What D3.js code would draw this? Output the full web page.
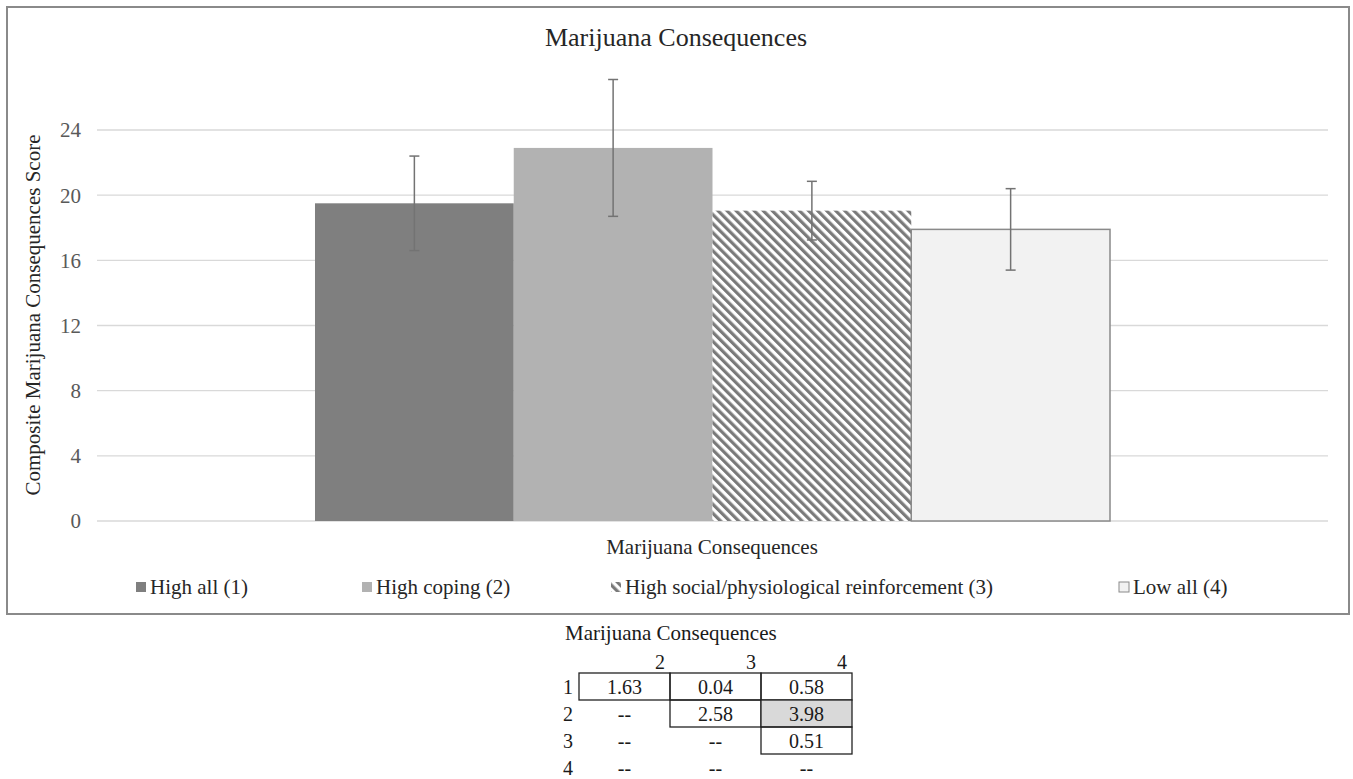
<!DOCTYPE html>
<html>
<head>
<meta charset="utf-8">
<script src="https://cdn.jsdelivr.net/npm/d3@7"></script>
<style>
  html, body { margin: 0; padding: 0; background: #fff; }
  svg { display: block; font-family: "Liberation Serif", "Times New Roman", serif; }
</style>
</head>
<body>
<svg id="chart" width="1353" height="779"></svg>
<script>
// Cluster profiles and their composite consequence scores
const category = ["Marijuana Consequences"];
const groups = ["High all (1)", "High coping (2)", "High social/physiological reinforcement (3)", "Low all (4)"];
const means = [19.5, 22.9, 19.05, 17.9];
const errors = [2.9, 4.2, 1.8, 2.5];
const yTicks = [0, 4, 8, 12, 16, 20, 24];

// Pairwise comparison table (rows 1-4 vs columns 2-4)
const tableTitle = "Marijuana Consequences";
const tableCols = ["2", "3", "4"];
const tableRows = ["1", "2", "3", "4"];
const tableValues = [
  ["1.63", "0.04", "0.58"],
  ["--", "2.58", "3.98"],
  ["--", "--", "0.51"],
  ["--", "--", "--"]
];
const highlighted = [[1, 2]];

const svg = d3.select("#chart");
const defs = svg.append("defs");

// wide downward diagonal hatch
const pat = defs.append("pattern")
  .attr("id", "hatch")
  .attr("patternUnits", "userSpaceOnUse")
  .attr("width", 6.4).attr("height", 6.4)
  .attr("patternTransform", "rotate(-45)");
pat.append("rect").attr("width", 6.4).attr("height", 6.4).attr("fill", "#fff");
pat.append("rect").attr("x", 0).attr("y", 0).attr("width", 3.2).attr("height", 6.4).attr("fill", "#7a7a7a");

const fills = ["#7f7f7f", "#b2b2b2", "url(#hatch)", "#f2f2f2"];
const strokes = ["none", "none", "none", "#8a8a8a"];

// outer chart frame
svg.append("rect")
  .attr("x", 7).attr("y", 7).attr("width", 1342).attr("height", 607)
  .attr("fill", "#fff").attr("stroke", "#8a8a8a").attr("stroke-width", 2);

const plot = { left: 97, right: 1328, top: 130, bottom: 521 };

const y = d3.scaleLinear().domain([0, 24]).range([plot.bottom, plot.top]);
const x0 = d3.scaleBand().domain(category).range([plot.left, plot.right])
  .paddingInner(0).paddingOuter(0.2742);
const x1 = d3.scaleBand().domain(groups).range([0, x0.bandwidth()]).padding(0);

// gridlines
svg.append("g").selectAll("line").data(yTicks).join("line")
  .attr("x1", plot.left).attr("x2", plot.right)
  .attr("y1", d => y(d)).attr("y2", d => y(d))
  .attr("stroke", "#d9d9d9").attr("stroke-width", 1.3);

// y axis labels
const yAxis = d3.axisLeft(y).tickValues(yTicks).tickSize(0).tickPadding(0);
const yg = svg.append("g").attr("transform", `translate(81,0)`).call(yAxis);
yg.select(".domain").remove();
yg.selectAll("text")
  .attr("font-family", "Liberation Serif, serif")
  .attr("font-size", 21).attr("fill", "#595959").attr("dy", "0.33em");

// bars
const gBars = svg.append("g").attr("transform", `translate(${x0(category[0])},0)`);
gBars.selectAll("rect").data(groups).join("rect")
  .attr("x", d => x1(d))
  .attr("y", (d, i) => y(means[i]))
  .attr("width", x1.bandwidth())
  .attr("height", (d, i) => y(0) - y(means[i]))
  .attr("fill", (d, i) => fills[i])
  .attr("stroke", (d, i) => strokes[i])
  .attr("stroke-width", 1.5);

// error bars
const eb = gBars.selectAll("g.err").data(groups).join("g").attr("class", "err");
eb.append("line")
  .attr("x1", d => x1(d) + x1.bandwidth() / 2).attr("x2", d => x1(d) + x1.bandwidth() / 2)
  .attr("y1", (d, i) => y(means[i] + errors[i])).attr("y2", (d, i) => y(means[i] - errors[i]));
[1, -1].forEach(s => {
  eb.append("line")
    .attr("x1", d => x1(d) + x1.bandwidth() / 2 - 5).attr("x2", d => x1(d) + x1.bandwidth() / 2 + 5)
    .attr("y1", (d, i) => y(means[i] + s * errors[i])).attr("y2", (d, i) => y(means[i] + s * errors[i]));
});
eb.selectAll("line").attr("stroke", "#737373").attr("stroke-width", 1.5);

// titles
svg.append("text").attr("x", 676).attr("y", 46).attr("text-anchor", "middle")
  .attr("font-size", 26).attr("fill", "#262626").text("Marijuana Consequences");
svg.append("text").attr("x", 712).attr("y", 554).attr("text-anchor", "middle")
  .attr("font-size", 21).attr("fill", "#262626").text(category[0]);
svg.append("text")
  .attr("transform", `translate(40,315) rotate(-90)`)
  .attr("text-anchor", "middle").attr("font-size", 21).attr("fill", "#262626")
  .text("Composite Marijuana Consequences Score");

// legend
const legendX = [136, 362, 611, 1119];
const lg = svg.append("g").selectAll("g").data(groups).join("g")
  .attr("transform", (d, i) => `translate(${legendX[i]},587)`);
lg.append("rect").attr("x", 0).attr("y", -5).attr("width", 10).attr("height", 10)
  .attr("fill", (d, i) => fills[i])
  .attr("stroke", (d, i) => strokes[i]).attr("stroke-width", 1);
lg.append("text").attr("x", 14).attr("y", 0).attr("dy", "0.35em")
  .attr("font-size", 21).attr("fill", "#262626").text(d => d);

// comparison table
const tb = svg.append("g");
const colEdges = [579, 670, 761, 852];
const rowTop = 673, rowH = 27;
tb.append("text").attr("x", 565).attr("y", 640).attr("font-size", 21).attr("fill", "#1a1a1a").text(tableTitle);
tb.selectAll("text.col").data(tableCols).join("text").attr("class", "col")
  .attr("x", (d, i) => colEdges[i + 1] - 5).attr("y", 669)
  .attr("text-anchor", "end").attr("font-size", 20).attr("fill", "#1a1a1a").text(d => d);
tb.selectAll("text.row").data(tableRows).join("text").attr("class", "row")
  .attr("x", 568).attr("y", (d, i) => rowTop + i * rowH + rowH / 2).attr("dy", "0.35em")
  .attr("text-anchor", "middle").attr("font-size", 20).attr("fill", "#1a1a1a").text(d => d);

// cells with values get a box; dashes are left open
tableValues.forEach((row, r) => {
  row.forEach((v, c) => {
    const cx = colEdges[c], cy = rowTop + r * rowH;
    const hl = highlighted.some(h => h[0] === r && h[1] === c);
    if (v !== "--") {
      tb.append("rect").attr("x", cx).attr("y", cy)
        .attr("width", colEdges[c + 1] - colEdges[c]).attr("height", rowH)
        .attr("fill", hl ? "#d9d9d9" : "none").attr("stroke", "#222").attr("stroke-width", 1.3);
    }
    tb.append("text").attr("x", (colEdges[c] + colEdges[c + 1]) / 2).attr("y", cy + rowH / 2)
      .attr("dy", "0.35em").attr("text-anchor", "middle")
      .attr("font-size", 20).attr("fill", "#1a1a1a").text(v);
  });
});
</script>
</body>
</html>
